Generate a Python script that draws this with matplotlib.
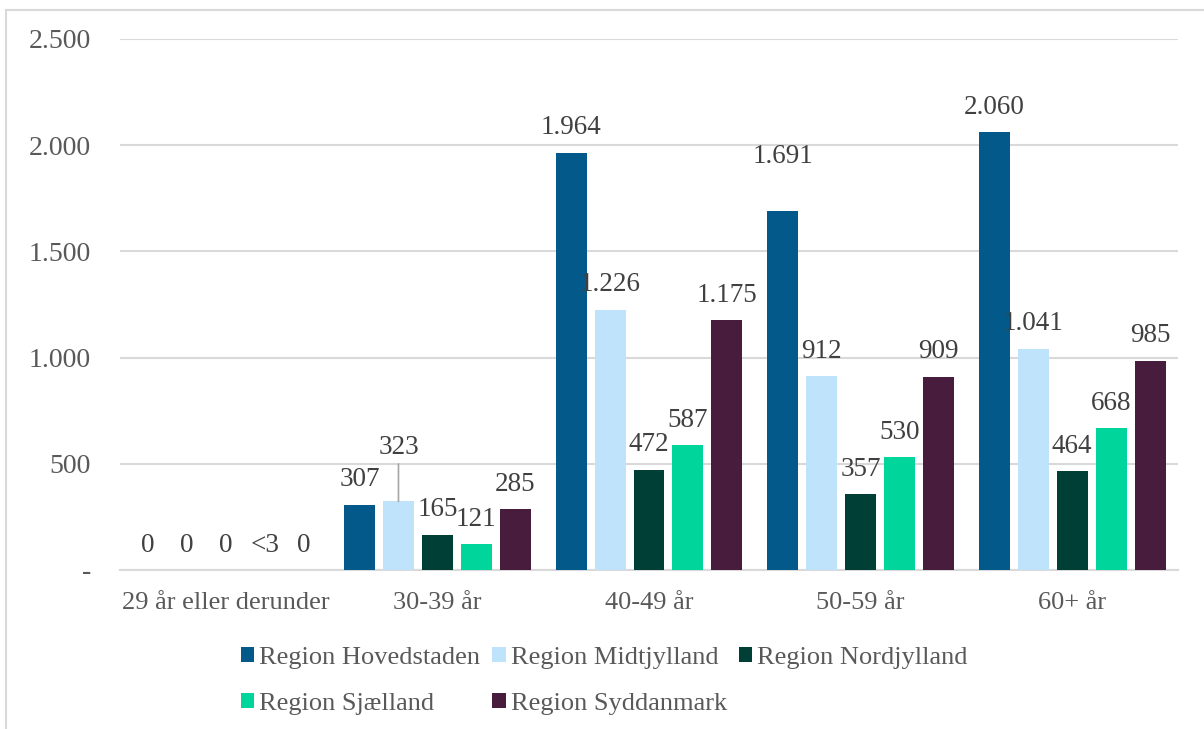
import numpy as np
import matplotlib.pyplot as plt
from matplotlib.lines import Line2D
from matplotlib.patches import Patch

plt.rcParams['font.family'] = ['Liberation Serif', 'DejaVu Serif']

# Data
categories = ['29 år eller derunder', '30-39 år', '40-49 år', '50-59 år', '60+ år']
regions = ['Region Hovedstaden', 'Region Midtjylland', 'Region Nordjylland',
           'Region Sjælland', 'Region Syddanmark']
hovedstaden = [0, 307, 1964, 1691, 2060]
midtjylland = [0, 323, 1226, 912, 1041]
nordjylland = [0, 165, 472, 357, 464]
sjaelland = [0, 121, 587, 530, 668]
syddanmark = [0, 285, 1175, 909, 985]
sjaelland_labels = ['<3', '121', '587', '530', '668']
colors = ['#03598a', '#bee3fb', '#003f36', '#00d69b', '#481c3c']
yticks = [0, 500, 1000, 1500, 2000, 2500]
ytick_labels = ['-', '500', '1.000', '1.500', '2.000', '2.500']

series = [hovedstaden, midtjylland, nordjylland, sjaelland, syddanmark]


def fmt(v):
    return '{:,}'.format(v).replace(',', '.')


fig = plt.figure(figsize=(12.04, 7.29), dpi=100)
ax = fig.add_axes([120/1204, 1-570/729, (1178-120)/1204, (570-39)/729])

x = np.arange(len(categories))
step = 0.184
width = 0.146
# labels that Excel lifted out of the way (series, category)
raised = {(1, 1), (0, 3)}

for i, vals in enumerate(series):
    xs = x + (i - 2) * step
    ax.bar(xs, vals, width, color=colors[i], zorder=3)
    for j, v in enumerate(vals):
        txt = sjaelland_labels[j] if i == 3 else fmt(v)
        off = 39 if (i, j) in raised else 18
        ax.annotate(txt, (xs[j], v), xytext=(0, off), textcoords='offset points',
                    ha='center', va='center', fontsize=19.5, color='#404040', zorder=4)
        if (i, j) == (1, 1):
            # leader line for the lifted label
            ax.annotate('', (xs[j], v), xytext=(0, 27), textcoords='offset points',
                        arrowprops=dict(arrowstyle='-', color='#a6a6a6', lw=1.2,
                                        shrinkA=0, shrinkB=0))

ax.set_xlim(-0.5, len(categories) - 0.5)
ax.set_ylim(0, 2500)
ax.set_yticks(yticks)
ax.set_yticklabels(ytick_labels)
ax.set_xticks(x)
ax.set_xticklabels(categories)
ax.tick_params(axis='both', length=0, labelcolor='#595959')
ax.tick_params(axis='x', pad=16, labelsize=19)
ax.tick_params(axis='y', pad=21, labelsize=20)
ax.grid(axis='y', color='#d9d9d9', linewidth=1.5, zorder=0)
for s in ['top', 'right', 'left']:
    ax.spines[s].set_visible(False)
ax.spines['bottom'].set_color('#d9d9d9')
ax.spines['bottom'].set_linewidth(1.5)

# legend in Excel row order
handles = [Patch(facecolor=c, edgecolor='none') for c in colors]
order = [0, 3, 1, 4, 2]
leg = fig.legend([handles[k] for k in order], [regions[k] for k in order],
                 ncol=3, loc='upper left', bbox_to_anchor=(241/1204, 1-647/729),
                 frameon=False, fontsize=19, handlelength=0.5, handleheight=0.5,
                 handletextpad=0.2, columnspacing=0.45, labelspacing=0.9,
                 borderpad=0, borderaxespad=0)
for t in leg.get_texts():
    t.set_color('#595959')

# chart frame
fig.add_artist(Line2D([6/1204, 6/1204], [0, 1-10/729], color='#d9d9d9', lw=1.5))
fig.add_artist(Line2D([6/1204, 1], [1-10/729, 1-10/729], color='#d9d9d9', lw=1.5))

fig.savefig('out.png', dpi=100)
